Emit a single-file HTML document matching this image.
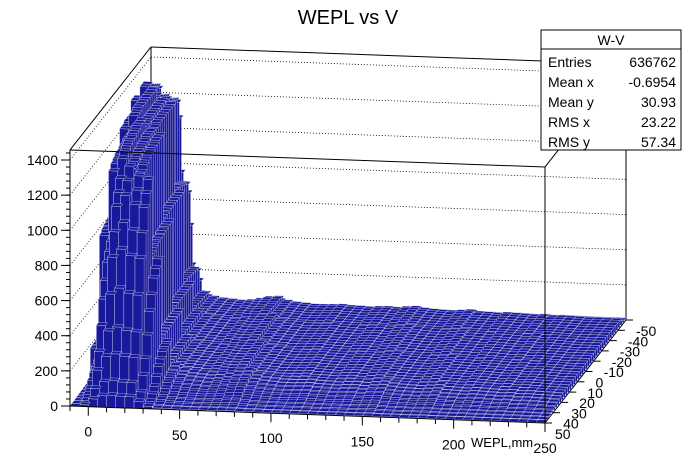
<!DOCTYPE html>
<html><head><meta charset="utf-8"><style>
html,body{margin:0;padding:0;background:#fff}
svg{display:block;font-family:"Liberation Sans",sans-serif}
</style></head><body>
<svg id="c" width="696" height="472" viewBox="0 0 696 472">
<rect width="696" height="472" fill="#fff"/>
<text x="348" y="24" text-anchor="middle" font-size="20">WEPL vs V</text>
<g id="grid"></g><g id="bars"></g><g id="axes"></g>
<g>
<rect x="541" y="30" width="140" height="120" fill="#fff" stroke="#000"/>
<line x1="541" y1="49" x2="681" y2="49" stroke="#000"/>
<text x="611" y="45" text-anchor="middle" font-size="14">W-V</text>
<g font-size="14">
<text x="548" y="67">Entries</text><text x="676" y="67" text-anchor="end">636762</text>
<text x="548" y="87">Mean x</text><text x="676" y="87" text-anchor="end">-0.6954</text>
<text x="548" y="107">Mean y</text><text x="676" y="107" text-anchor="end">30.93</text>
<text x="548" y="127">RMS x</text><text x="676" y="127" text-anchor="end">23.22</text>
<text x="548" y="147">RMS y</text><text x="676" y="147" text-anchor="end">57.34</text>
</g></g>
</svg>
<script>
// WEPL bins (5 mm, from -10 to 250), counts along ridge
const xProfile=[10,200,900,1300,1380,1320,1300,800,280,130,100,90,85,80,85,95,110,115,90,80,75,70,70,72,75,70,68,65,70,72,68,75,80,70,65,62,60,65,70,60,58,55,60,58,55,52,55,50,52,50,48,45];
// V bins (2.5 mm) front (V=+50) to back (V=-50)
const vWeight=[0.05,0.1,0.2,0.3,0.45,0.6,0.7,0.8,0.85,0.9,0.92,0.94,0.95,0.96,0.96,0.97,0.97,0.98,0.98,0.98,0.99,0.99,1,1,1,1,1,1,1,1,1,1,0.98,0.97,0.96,0.95,0.93,0.85,0.6,0.3];
const vShift=[0,0,0,0,0,0,0,0,0,0,-1,-1,-1,-1,-1,-1,-1,-1,-1,-1,-2,-2,-2,-2,-2,-2,-2,-2,-2,-2,-3,-3,-3,-3,-3,-3,-3,-3,-3,-3];
const zTicks=[0,200,400,600,800,1000,1200,1400];
const xTicks=[0,50,100,150,200,250];
const yTicks=[-50,-40,-30,-20,-10,0,10,20,30,40,50];
const NS="http://www.w3.org/2000/svg";
const X0=70,Y0=406,EX=475,EY=17,DX=81,DY=-103,ZS=246/1400;
const xmin=-10,xmax=250,vmin=-50,vmax=50;
function P(x,v,z){const u=(x-xmin)/(xmax-xmin);const d=(vmax-v)/(vmax-vmin);
 return [X0+EX*u+DX*d, Y0+EY*u+DY*d-z*ZS];}
function mk(t,a,p){const e=document.createElementNS(NS,t);for(const k in a)e.setAttribute(k,a[k]);p.appendChild(e);return e;}
const grid=document.getElementById('grid'),bars=document.getElementById('bars'),axes=document.getElementById('axes');
function line(a,b,p,ex){return mk('line',Object.assign({x1:a[0],y1:a[1],x2:b[0],y2:b[1],stroke:'#000','stroke-width':1},ex||{}),p);}
zTicks.forEach(z=>{if(z===0)return;
 const g=line(P(xmin,vmin,z),P(xmax,vmin,z),grid,{'stroke-dasharray':'1,2','stroke-width':0.8});
 
 const h=line(P(xmin,vmax,z),P(xmin,vmin,z),grid,{'stroke-dasharray':'1,2','stroke-width':0.8});
 });
const zTop=1457;
line(P(xmin,vmin,0),P(xmin,vmin,zTop),grid);
line(P(xmin,vmin,zTop),P(xmax,vmin,zTop),grid);
line(P(xmax,vmin,0),P(xmax,vmin,zTop),grid);
line(P(xmin,vmax,zTop),P(xmin,vmin,zTop),grid);
line(P(xmin,vmin,0),P(xmax,vmin,0),grid,{'stroke-width':0.5});
const nx=xProfile.length,ny=vWeight.length,bw=(xmax-xmin)/nx,bv=(vmax-vmin)/ny;
function poly(pts,p){return mk('polygon',{points:pts.map(q=>q[0].toFixed(1)+','+q[1].toFixed(1)).join(' '),fill:'#18189a',stroke:'#fff','stroke-width':0.3},p);}
for(let j=ny-1;j>=0;j--){
 const vA=vmax-j*bv,vB=vA-bv;
 for(let i=nx-1;i>=0;i--){
  const src=i-vShift[j];const base=(src>=0&&src<nx)?xProfile[src]:(src<0?0:xProfile[nx-1]);
  const h=base*vWeight[j];
  const xa=xmin+i*bw,xb=xa+bw;
  const g=mk('g',{},bars);
  
  
  poly([P(xa,vA,0),P(xa,vB,0),P(xa,vB,h),P(xa,vA,h)],g);
  poly([P(xa,vA,0),P(xb,vA,0),P(xb,vA,h),P(xa,vA,h)],g);
  poly([P(xa,vA,h),P(xb,vA,h),P(xb,vB,h),P(xa,vB,h)],g);
 }}
line(P(xmin,vmax,0),P(xmin,vmax,zTop),axes);
line(P(xmin,vmax,zTop),P(xmax,vmax,zTop),axes);
line(P(xmax,vmax,0),P(xmax,vmax,zTop),axes);
line(P(xmax,vmax,zTop),P(xmax,vmin,zTop),axes);
zTicks.forEach(z=>{const p=P(xmin,vmax,z);line([p[0]-9,p[1]],p,axes);
 const t=mk('text',{x:p[0]-12,y:p[1]+5,'text-anchor':'end','font-size':14},axes);t.textContent=z;
 });
for(let z=0;z<=1440;z+=40){const p=P(xmin,vmax,z);line([p[0]-4,p[1]],p,axes);}
line(P(xmin,vmax,0),P(xmax,vmax,0),axes);
for(let x=-10;x<=250;x+=10){const p=P(x,vmax,0);line(p,[p[0],p[1]+(x%50===0?9:5)],axes);}
xTicks.forEach(x=>{const p=P(x,vmax,0);const t=mk('text',{x:p[0],y:p[1]+30,'text-anchor':'middle','font-size':14},axes);t.textContent=x;
 });
{const t=mk('text',{x:471,y:447,'font-size':13},axes);t.textContent='WEPL,mm';}
line(P(xmax,vmax,0),P(xmax,vmin,0),axes);
yTicks.forEach(v=>{const p=P(xmax,v,0);line(p,[p[0]+7,p[1]],axes);
 const t=mk('text',{x:p[0]+10,y:p[1]+16,'font-size':14},axes);t.textContent=v;
 });
</script>
</body></html>
